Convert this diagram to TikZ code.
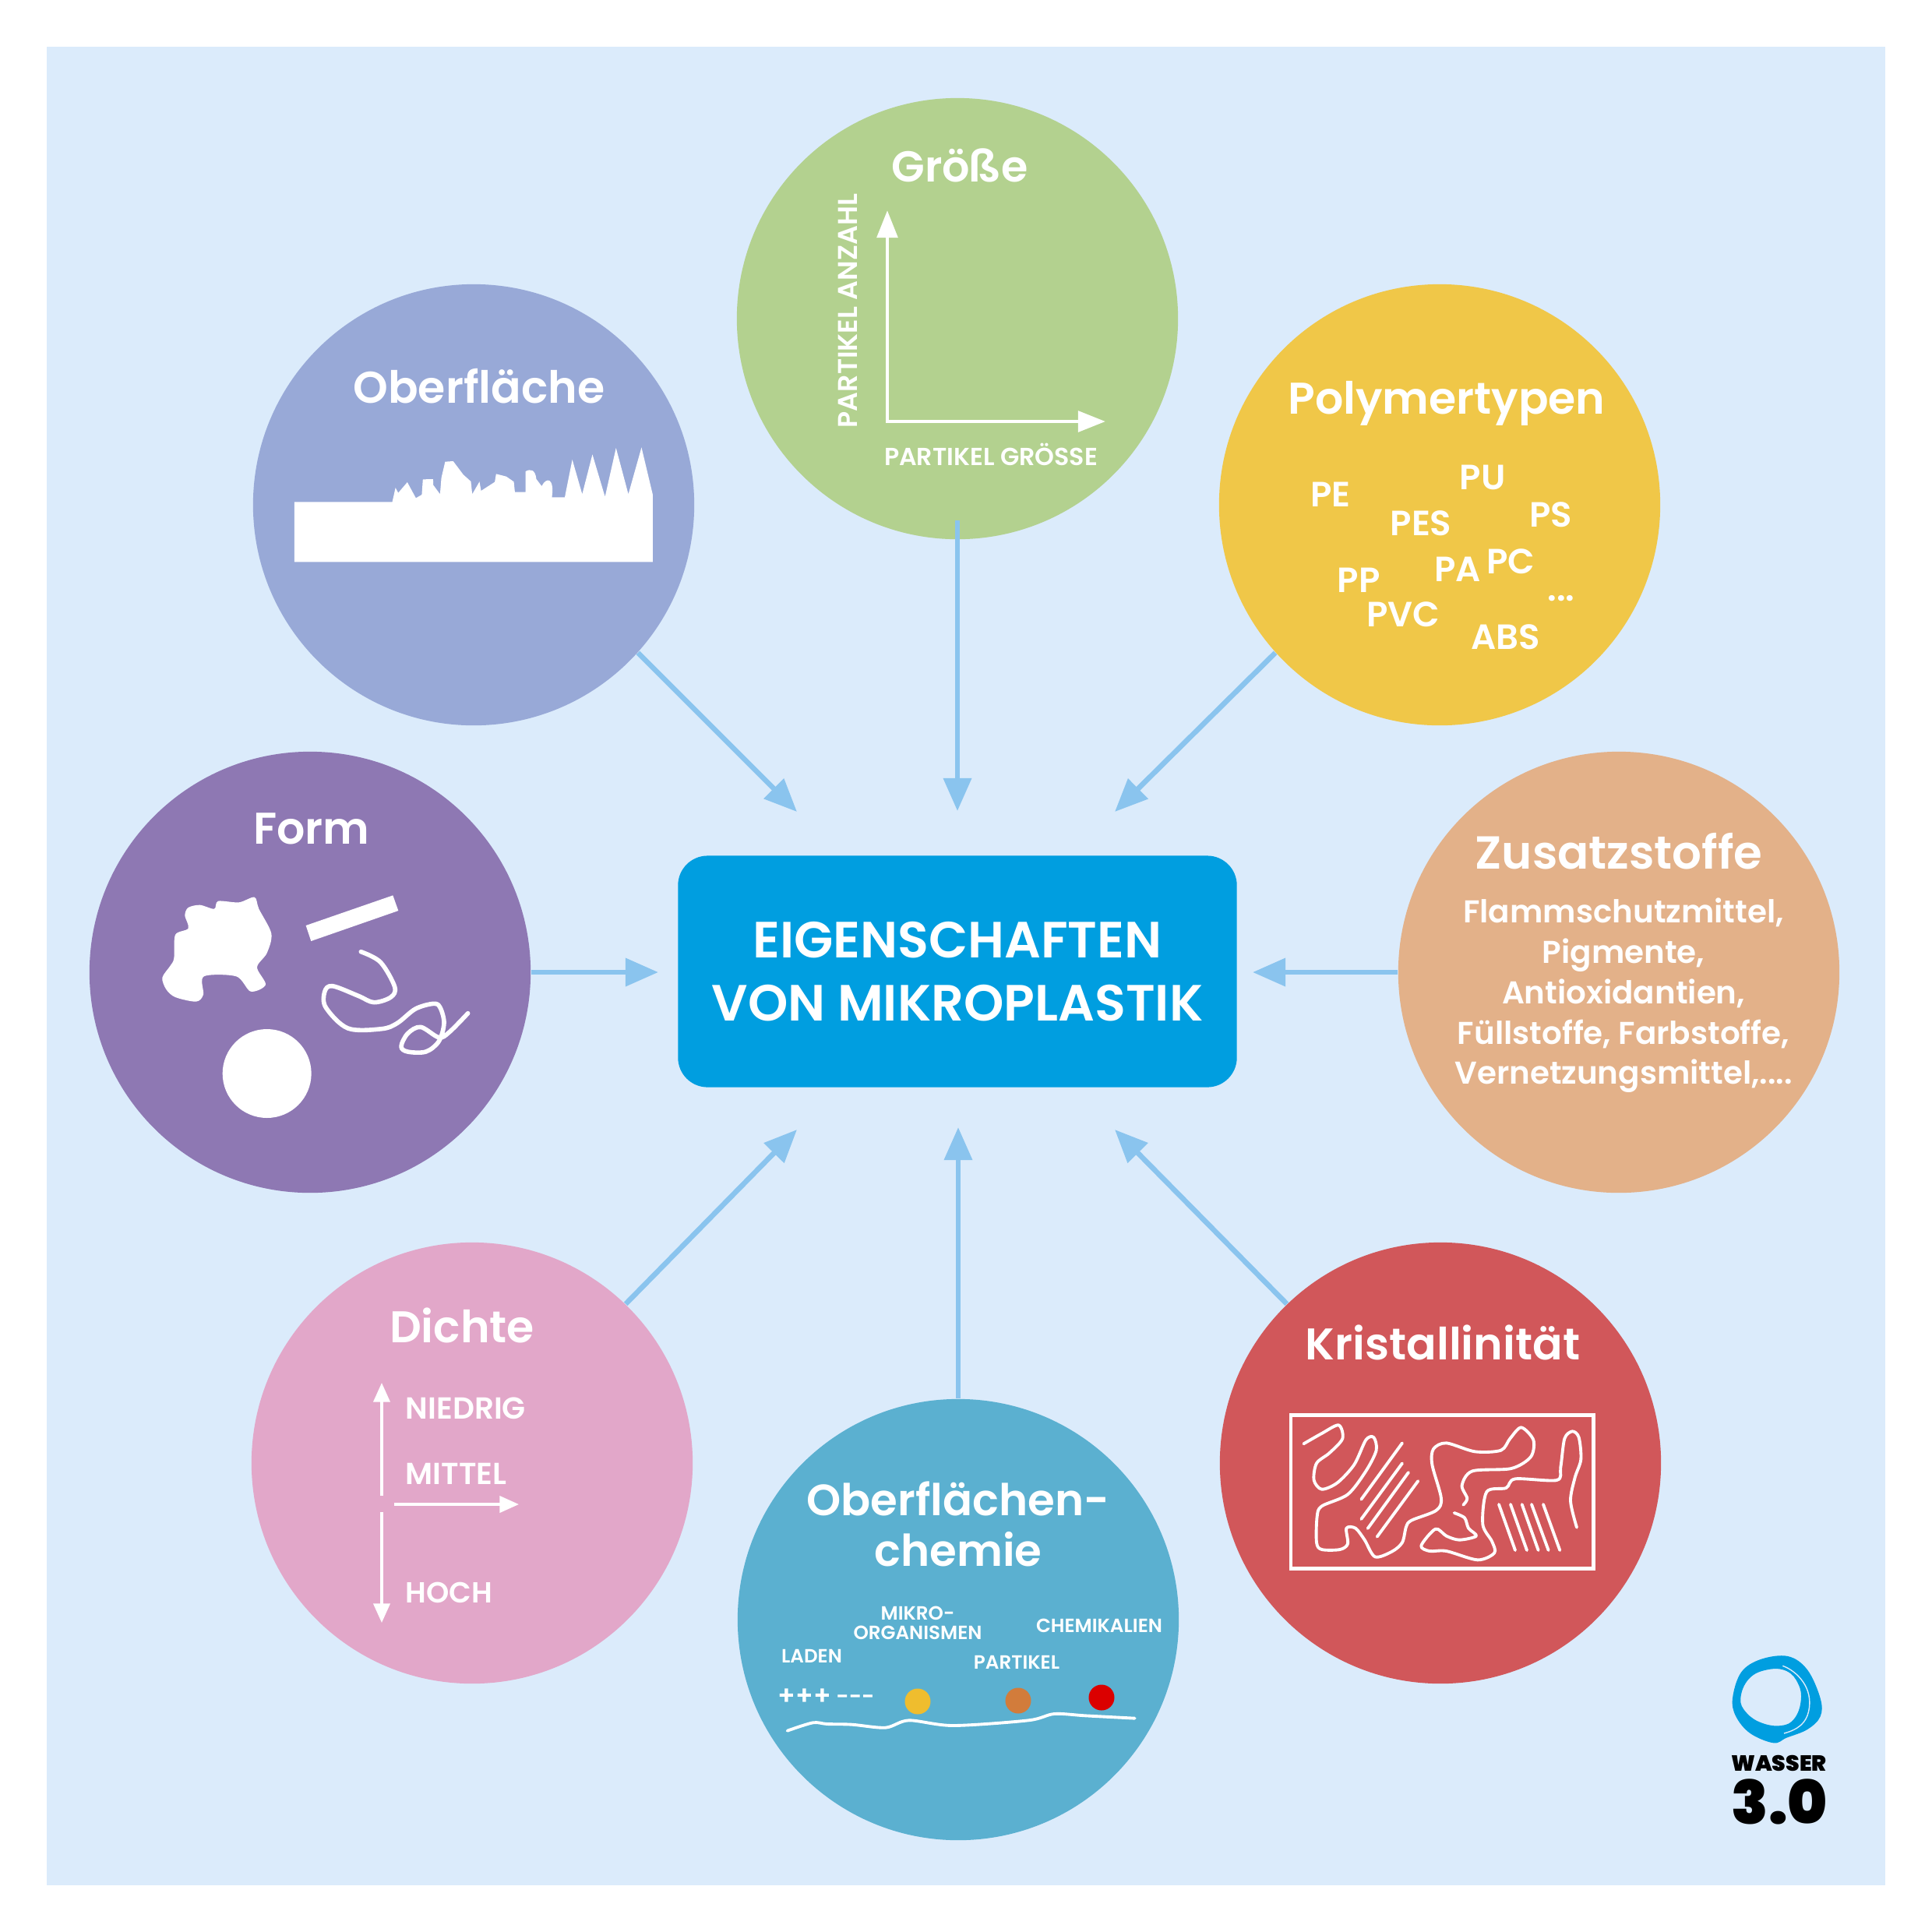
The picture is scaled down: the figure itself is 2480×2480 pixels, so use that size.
\documentclass[tikz,border=0pt]{standalone}
\usepackage{fontspec}
\setmainfont{Poppins}[BoldFont={Poppins SemiBold}]
\newfontfamily\logofont{Poppins Black}
\usetikzlibrary{arrows.meta}
\definecolor{hintergrund}{HTML}{DBEBFB}
\definecolor{kernblau}{HTML}{009EE0}
\definecolor{pfeilblau}{HTML}{8AC4EE}
\definecolor{groessegruen}{HTML}{B3D18F}
\definecolor{oberblau}{HTML}{98A9D7}
\definecolor{polygelb}{HTML}{F0C748}
\definecolor{formlila}{HTML}{8E78B3}
\definecolor{zusatzbeige}{HTML}{E3B189}
\definecolor{dichterosa}{HTML}{E2A7C9}
\definecolor{kristallrot}{HTML}{D1575A}
\definecolor{chemieblau}{HTML}{5BB0D0}
\definecolor{punktgelb}{HTML}{EFBD2E}
\definecolor{punktorange}{HTML}{D27C3B}
\definecolor{punktrot}{HTML}{DB0000}
\tikzset{
  kreis/.style={circle, minimum size=5.66cm, inner sep=0pt},
  titel/.style={text=white, font=\bfseries\fontsize{16.2}{18.4}\selectfont, align=center, inner sep=0pt},
  etikett/.style={text=white, font=\bfseries\fontsize{9}{10}\selectfont, align=center, inner sep=0pt},
  klein/.style={text=white, font=\bfseries\fontsize{7}{7.1}\selectfont, align=center, inner sep=0pt},
  mittel/.style={text=white, font=\bfseries\fontsize{11.1}{12}\selectfont, align=center, inner sep=0pt},
  polytext/.style={text=white, font=\bfseries\fontsize{12.8}{14}\selectfont, inner sep=0pt},
  punkt/.style={circle, minimum size=0.33cm, inner sep=0pt},
  pfeil/.style={-{Triangle[length=12pt,width=10pt]}, pfeilblau, line width=1.9pt},
  weisspfeil/.style={-{Triangle[length=7pt,width=6pt]}, white, line width=1pt},
  faser/.style={white, line width=1.1pt, line cap=round, line join=round},
}
\begin{document}
\begin{tikzpicture}[x=0.01cm, y=-0.01cm]
  \useasboundingbox (0,0) rectangle (2480,2480);
  \fill[hintergrund] (60,60) rectangle (2420,2420);

  \node[kreis, fill=groessegruen] (groesse) at (1229,409) {};
  \node[kreis, fill=oberblau] (oberflaeche) at (608,648) {};
  \node[kreis, fill=polygelb] (polymer) at (1848,648) {};
  \node[kreis, fill=formlila] (form) at (398,1248) {};
  \node[kreis, fill=zusatzbeige] (zusatz) at (2078,1248) {};
  \node[kreis, fill=dichterosa] (dichte) at (606,1878) {};
  \node[kreis, fill=kristallrot] (kristall) at (1849,1878) {};
  \node[kreis, fill=chemieblau] (chemie) at (1230,2079) {};

  \node[fill=kernblau, rounded corners=0.38cm, minimum width=7.17cm, minimum height=2.97cm, text=white, align=center,
        font=\bfseries\fontsize{18.6}{22.8}\selectfont] (eigenschaften) at (1229,1247) {EIGENSCHAFTEN\\VON MIKROPLASTIK};

  \coordinate (zielgroesse) at (1229,1041);
  \coordinate (zieloberflaeche) at (1023,1042);
  \coordinate (zielpolymer) at (1431,1042);
  \coordinate (zielform) at (845,1248);
  \coordinate (zielzusatz) at (1608,1248);
  \coordinate (zieldichte) at (1023,1450);
  \coordinate (zielchemie) at (1230,1447);
  \coordinate (zielkristall) at (1431,1450);

  \draw[pfeil, shorten <=-7pt] (groesse.south) -- (zielgroesse);
  \draw[pfeil] (oberflaeche.-42) -- (zieloberflaeche);
  \draw[pfeil] (polymer.222) -- (zielpolymer);
  \draw[pfeil] (form.east) -- (zielform);
  \draw[pfeil] (zusatz.west) -- (zielzusatz);
  \draw[pfeil] (dichte.46) -- (zieldichte);
  \draw[pfeil] (chemie.north) -- (zielchemie);
  \draw[pfeil] (kristall.134) -- (zielkristall);

  \node[titel, font=\bfseries\fontsize{15.8}{18.4}\selectfont] (titelgroesse) at (1232,212) {Größe};
  \node[etikett, rotate=90, font=\bfseries\fontsize{9.9}{11}\selectfont] (anzahl) at (1088,399) {PARTIKEL ANZAHL};
  \node[etikett] (groessetext) at (1272,583) {PARTIKEL GRÖSSE};
  \coordinate (achseoben) at (1139,270);
  \coordinate (ursprung) at (1139,541);
  \coordinate (achserechts) at (1419,541);
  \draw[{Triangle[length=10pt,width=7.5pt]}-{Triangle[length=10pt,width=7.5pt]}, white, line width=1.4pt] (achseoben) -- (ursprung) -- (achserechts);

  \node[titel] (titeloberflaeche) at (615,496) {Oberfläche};
  \begin{scope}[shift={(340,540)}, xscale=1/2.904, yscale=1/3]
    \fill[white] (110,313) -- (475,313) -- (487,258) -- (497,278) -- (531,237) -- (563,298) -- (585,285) -- (589,226) -- (627,225)
      -- (628,248) -- (653,283) -- (658,220) -- (672,158) -- (702,156) -- (740,208) -- (768,234) -- (773,283) -- (800,235)
      -- (806,270) -- (857,236) -- (862,205) -- (900,215) -- (928,235) -- (932,275) -- (972,275) -- (972,195)
      .. controls (990,185) and (1008,187) .. (1012,225) -- (1032,252) .. controls (1050,215) and (1080,220) .. (1070,295)
      -- (1118,295) -- (1146,150) -- (1183,283) -- (1221,130) -- (1268,293) -- (1309,105) -- (1355,283) -- (1404,103)
      -- (1446,285) -- (1446,544) -- (110,544) -- cycle;
  \end{scope}

  \node[titel] (titelpolymer) at (1857,518) {Polymertypen};
  \node[polytext] (pe) at (1708,635) {PE};
  \node[polytext] (pu) at (1903,613) {PU};
  \node[polytext] (pes) at (1824,672) {PES};
  \node[polytext] (ps) at (1991,661) {PS};
  \node[polytext] (pp) at (1744,745) {PP};
  \node[polytext] (pa) at (1871,731) {PA};
  \node[polytext] (pc) at (1939,721) {PC};
  \node[polytext] (pvc) at (1801,789) {PVC};
  \node[polytext] (punkte) at (2004,768) {...};
  \node[polytext] (abs) at (1933,818) {ABS};

  \node[titel] (titelform) at (400,1064) {Form};
  \begin{scope}[shift={(180,1100)}, scale=1/3]
    \fill[white] plot[smooth cycle, tension=0.5] coordinates {(85,465) (115,420) (130,390) (135,300) (185,275) (172,225) (185,195)
      (230,185) (285,200) (300,170) (380,175) (440,155) (457,200) (505,295) (488,370) (450,425) (483,492) (425,518) (370,460)
      (245,460) (243,530) (215,557) (135,540) (100,510)};
    \fill[white] (638,264) -- (973,148) -- (994,207) -- (658,324) -- cycle;
    \fill[white] (488,834) circle (171);
    \draw[faser, line width=1.6pt] plot[smooth, tension=0.55] coordinates {(850,365) (925,405) (980,500) (965,540) (900,560) (840,535)
      (740,497) (710,520) (715,580) (800,660) (930,662) (990,640) (1060,585) (1130,565) (1155,580) (1170,640) (1150,710) (1100,750)
      (1030,750) (1005,730) (1030,680) (1080,655) (1150,695) (1190,675) (1262,602)};
  \end{scope}

  \node[titel, font=\bfseries\fontsize{16.9}{18.4}\selectfont] (titelzusatz) at (2078,1093) {Zusatzstoffe};
  \node[text=white, align=center, inner sep=0pt, font=\bfseries\fontsize{11.5}{14.7}\selectfont] (zusatztext) at (2084,1278)
    {Flammschutzmittel,\\Pigmente,\\Antioxidantien,\\Füllstoffe, Farbstoffe,\\Vernetzungsmittel,....};

  \node[titel] (titeldichte) at (593,1701) {Dichte};
  \node[mittel, anchor=west] (niedrig) at (520,1808) {NIEDRIG};
  \node[mittel, anchor=west] (mitteltext) at (520,1892) {MITTEL};
  \node[mittel, anchor=west, font=\bfseries\fontsize{10.6}{12}\selectfont] (hoch) at (520,2044) {HOCH};
  \coordinate (dichtemitte) at (490,1920);
  \coordinate (dichteoben) at (490,1775);
  \coordinate (dichteunten) at (490,1941);
  \coordinate (dichteende) at (490,2083);
  \coordinate (dichtelinks) at (506,1931);
  \coordinate (dichterechts) at (666,1931);
  \draw[weisspfeil] (dichtemitte) -- (dichteoben);
  \draw[weisspfeil] (dichteunten) -- (dichteende);
  \draw[weisspfeil] (dichtelinks) -- (dichterechts);

  \node[titel] (titelkristall) at (1852,1723) {Kristallinität};
  \begin{scope}[shift={(1640,1790)}, scale=1/3]
    \draw[white, line width=1.35pt] (51,79) rectangle (1217,670);
    \draw[faser] plot[smooth, tension=0.5] coordinates {(100,190) (170,150) (235,118) (250,170) (200,225) (150,265) (140,330) (170,365)
      (230,340) (295,270) (340,175) (370,165) (380,215) (340,295) (270,385) (170,430) (152,470) (150,570) (170,597) (240,597)
      (270,575) (265,515) (300,515) (335,560) (375,625) (440,605) (480,570) (495,510) (515,485) (610,447) (630,400) (595,270)
      (600,210) (650,187) (760,220) (860,215) (895,170) (938,127) (985,175) (975,240) (900,285) (750,295) (710,350) (730,400) (715,425)};
    \draw[faser] plot[smooth, tension=0.5] coordinates {(680,456) (720,475) (735,515) (765,545) (700,560) (650,545) (608,518) (553,582)
      (585,603) (650,603) (770,637) (835,610) (825,565) (790,500) (805,375) (880,360) (915,325) (1075,330) (1090,280) (1105,170)
      (1135,142) (1160,165) (1168,250) (1145,320) (1128,410) (1152,512)};
    \draw[faser] (322,404) -- (480,187) (322,480) -- (480,265) (347,516) -- (504,300) (383,548) -- (541,333);
    \draw[faser] (852,423) -- (915,600) (897,423) -- (960,600) (941,423) -- (1004,600) (978,423) -- (1043,600) (1023,423) -- (1087,600);
  \end{scope}

  \node[titel, font=\bfseries\fontsize{16}{18.4}\selectfont] (titelchemie) at (1230,1956) {Oberflächen-\\chemie};
  \node[klein] (laden) at (1042,2126) {LADEN};
  \node[klein] (mikro) at (1178,2083) {MIKRO-\\ORGANISMEN};
  \node[klein] (chemikalien) at (1411,2087) {CHEMIKALIEN};
  \node[klein] (partikel) at (1305,2134) {PARTIKEL};
  \node[mittel, font=\bfseries\fontsize{9.6}{11}\selectfont] (plus) at (1033,2178) {+++};
  \node[mittel, font=\bfseries\fontsize{8}{9}\selectfont] (minus) at (1098,2182) {-{}-{}-};
  \node[punkt, fill=punktgelb] (gelbpunkt) at (1178,2184) {};
  \node[punkt, fill=punktorange] (orangepunkt) at (1307,2183) {};
  \node[punkt, fill=punktrot] (rotpunkt) at (1414,2179) {};
  \begin{scope}[shift={(980,2040)}, scale=1/3]
    \draw[faser] plot[smooth, tension=0.5] coordinates {(92,545) (190,514) (245,519) (340,521) (470,533) (560,505) (730,525) (1020,505) (1120,480) (1240,487) (1430,497)};
  \end{scope}

  \begin{scope}[shift={(2180,2100)}, scale=1/3]
    \fill[kernblau, even odd rule] plot[smooth cycle, tension=0.6] coordinates {(132,240) (165,140) (240,90) (345,78) (420,130) (470,240) (470,310) (420,360) (340,392) (290,412) (200,375) (145,310)}
      plot[smooth cycle, tension=0.7] coordinates {(163,240) (195,165) (265,130) (340,135) (385,185) (395,250) (370,318) (320,345) (245,335) (185,295)};
    \draw[hintergrund, line width=0.4pt] (325,115) .. controls (380,135) and (445,200) .. (425,290) .. controls (415,335) and (385,360) .. (330,375);
    \node[font=\logofont\fontsize{8}{10}\selectfont, text=black, inner sep=0pt] (wasser) at (310,490) {WASSER};
    \node[font=\logofont\fontsize{22}{24}\selectfont, text=black, inner sep=0pt] (dreinull) at (313,640) {3.0};
  \end{scope}
\end{tikzpicture}
\end{document}
